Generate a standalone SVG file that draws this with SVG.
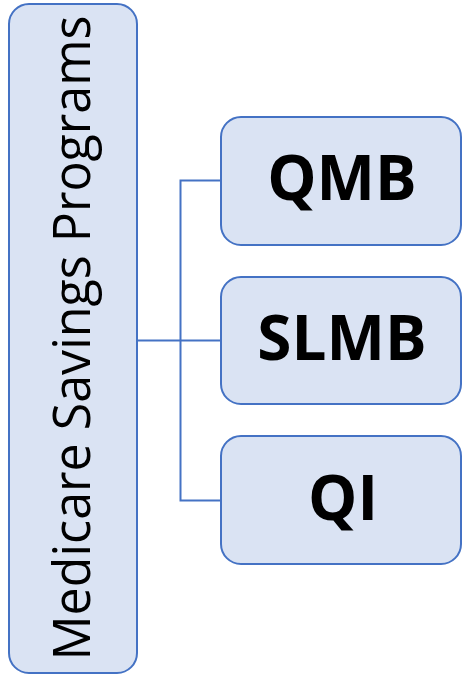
<svg xmlns="http://www.w3.org/2000/svg" width="462" height="676" viewBox="0 0 462 676">
<style>
.box{fill:#DAE3F3;stroke:#4472C4;stroke-width:2}
.conn{fill:none;stroke:#4472C4;stroke-width:2}
.lbl{font-family:"Open Sans","Liberation Sans",sans-serif;font-weight:bold;font-size:62px;fill:#000;text-anchor:middle}
.main{font-family:"Open Sans","Liberation Sans",sans-serif;font-size:51px;fill:#000;text-anchor:middle}
</style>
<rect width="462" height="676" fill="#fff"/>
<g id="connectors">
<path class="conn" d="M138 340.5 H180.5"/>
<path class="conn" d="M221 180.5 H180.5 V500.5 H221"/>
<path class="conn" d="M180.5 340.5 H221"/>
</g>
<g id="node-main">
<rect class="box" x="9" y="4" width="128" height="669" rx="20"/>
<text class="main" transform="translate(90,338) rotate(-90)" textLength="645" lengthAdjust="spacingAndGlyphs">Medicare Savings Programs</text>
</g>
<g id="node-qmb">
<rect class="box" x="221" y="117" width="240" height="128" rx="20"/>
<text class="lbl" x="342" y="200">QMB</text>
</g>
<g id="node-slmb">
<rect class="box" x="221" y="277" width="240" height="127" rx="20"/>
<text class="lbl" x="342" y="360">SLMB</text>
</g>
<g id="node-qi">
<rect class="box" x="221" y="436" width="240" height="128" rx="20"/>
<text class="lbl" x="343" y="520">QI</text>
</g>
</svg>
